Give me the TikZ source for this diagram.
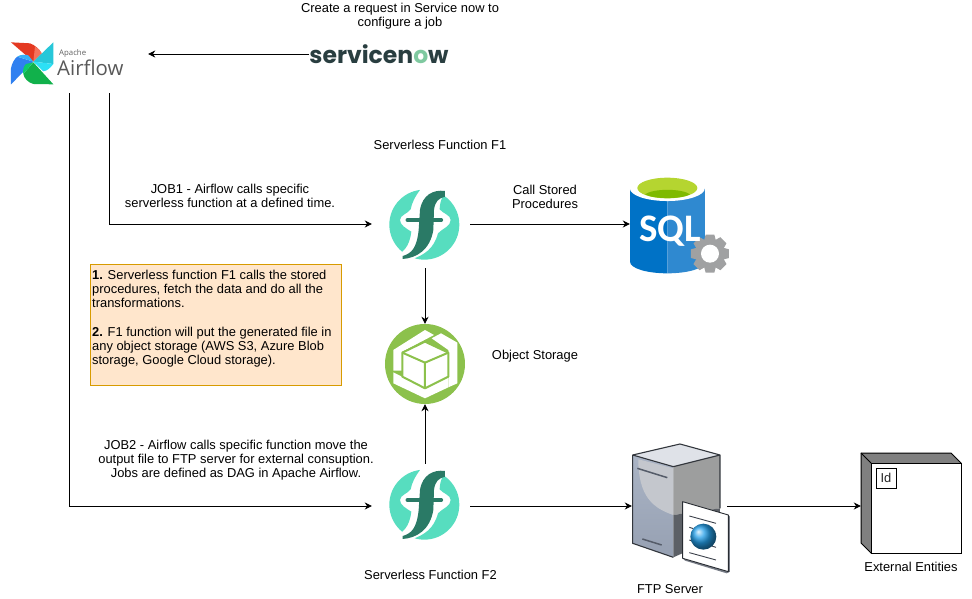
\documentclass[tikz,border=0pt]{standalone}
\usepackage{fontspec}
\setmainfont{Liberation Sans}
\newfontfamily\snfont{Poppins}
\newfontfamily\affont{Open Sans}
\newfontfamily\sqlfont{Carlito}
\usetikzlibrary{arrows.meta}
\definecolor{fteal}{HTML}{57DDBF}
\definecolor{fdark}{HTML}{2A7A66}
\definecolor{osgreen}{HTML}{8CC14C}
\definecolor{notefill}{HTML}{FFE6CC}
\definecolor{noteline}{HTML}{D79B00}
\definecolor{sndark}{HTML}{293E40}
\definecolor{sngreen}{HTML}{7FC9A0}
\definecolor{gearcol}{HTML}{A0A1A2}
\definecolor{sqlL}{HTML}{0072C6}
\definecolor{sqlR}{HTML}{2F89D0}
\definecolor{sqlrim}{HTML}{B5D530}
\definecolor{sqlgr}{HTML}{7FBA00}
\definecolor{srvA}{HTML}{AAB4C5}
\definecolor{srvB}{HTML}{96A0B2}
\definecolor{srvC}{HTML}{C4C7CD}
\definecolor{srvD}{HTML}{9D9E9E}
\definecolor{srvE}{HTML}{5C6066}
\definecolor{srvT}{HTML}{DFE2E8}
\definecolor{srvline}{HTML}{32363C}
\definecolor{srvslot}{HTML}{555C69}
\definecolor{docS}{HTML}{787D87}
\definecolor{docL}{HTML}{282C32}
\definecolor{docT}{HTML}{3C414B}
\definecolor{ballc}{HTML}{25A0EA}
\definecolor{extc}{HTML}{808080}
\definecolor{afred}{HTML}{E43921}
\definecolor{afsalmon}{HTML}{F4725B}
\definecolor{afcyan}{HTML}{27C7D9}
\definecolor{aflcyan}{HTML}{2DE0F5}
\definecolor{afblue}{HTML}{2F80F0}
\definecolor{aflblue}{HTML}{38B0F5}
\definecolor{afgreen}{HTML}{11B14B}
\definecolor{aflgreen}{HTML}{0CCB6C}
\tikzset{
  lbl/.style={align=center,inner sep=0pt,font=\fontsize{12.9}{14}\selectfont},
  conn/.style={draw=black,line width=0.9pt,-{Stealth[length=7pt,width=7pt,inset=2.2pt]}},
  zoomed/.style={x=.3333pt,y=-.3333pt},
}
\newcommand{\flogo}[2]{%
\begin{scope}[shift={(#1,#2)},zoomed]
  \begin{scope}
    \clip (150,45) -- (30,45) -- (30,280) -- (92,250) -- (105,237) .. controls (115,225) and (122,205) .. (124,185) .. controls (108,175) and (90,165) .. (90,150) .. controls (90,135) and (115,130) .. (122,118) .. controls (125,100) and (135,80) .. (150,60) -- cycle;
    \fill[fteal] (163,164) circle (35pt);
  \end{scope}
  \begin{scope}
    \clip (222,70) -- (300,70) -- (300,300) -- (110,300) -- (120,270) .. controls (165,255) and (192,235) .. (204,190) .. controls (217,175) and (242,170) .. (242,150) .. controls (242,135) and (218,130) .. (209,118) .. controls (209,105) and (212,90) .. (222,70) -- cycle;
    \fill[fteal] (163,164) circle (35pt);
  \end{scope}
  \fill[fdark] (98,267) .. controls (140,264) and (180,240) .. (190,180) -- (192,120) .. controls (195,95) and (205,85) .. (225,80) -- (225,63) .. controls (190,58) and (157,75) .. (150,120) -- (146,180) .. controls (140,235) and (125,250) .. (98,258) -- cycle;
  \draw[fdark,line width=3.6pt,line cap=round] (112,150)--(214,150);
\end{scope}}
\begin{document}
\begin{tikzpicture}[x=1pt,y=-1pt]
\useasboundingbox (0,0) rectangle (972,599);
\fill[white] (0,0) rectangle (972,599);

% ---------- Airflow logo
\begin{scope}[zoomed]
  \fill[afred] (33,127) -- (90,130) .. controls (105,135) and (118,148) .. (125,160) -- (100,185) -- cycle;
  \fill[afsalmon] (105,140) .. controls (115,145) and (122,152) .. (125,160) -- (100,185) -- cycle;
  \fill[afcyan] (160,127) -- (160,192) -- (100,185) -- cycle;
  \fill[aflcyan] (100,185) -- (160,192) .. controls (150,205) and (142,212) .. (130,214) -- cycle;
  \fill[afblue] (33,253) -- (33,205) .. controls (36,190) and (42,178) .. (52,170) -- (100,185) -- cycle;
  \fill[aflblue] (52,170) .. controls (62,163) and (76,163) .. (85,166) -- (100,185) -- cycle;
  \fill[afgreen] (160,253) -- (100,252) .. controls (85,248) and (72,235) .. (70,222) -- (100,187) -- cycle;
  \fill[aflgreen] (70,222) .. controls (68,210) and (70,200) .. (78,192) -- (100,187) -- cycle;
\end{scope}
\node[inner sep=0pt,anchor=west,text=black!62,font=\affont\fontsize{7.8}{9}\selectfont] (apache) at (59,53) {Apache};
\node[inner sep=0pt,anchor=west,text=black!65,font=\affont\fontsize{20.4}{22}\selectfont] (airflowtxt) at (57,68) {Airflow};
\node[inner sep=0pt,minimum width=148pt,minimum height=60pt] (airflow) at (74,63) {};

% ---------- ServiceNow
\node[inner sep=0pt,minimum width=138pt,minimum height=24pt,text=sndark,font=\snfont\bfseries\fontsize{23.5}{24}\selectfont] (snow) at (379,54) {service\textcolor{sndark}{n}\textcolor{sngreen}{o}w};

% ---------- Function logos
\flogo{370}{170}
\flogo{370}{450}
\node[inner sep=0pt,minimum width=98pt,minimum height=88pt] (f1) at (421,224) {};
\node[inner sep=0pt,minimum width=98pt,minimum height=84pt] (f2) at (421,506) {};

% ---------- Object storage
\begin{scope}[shift={(370,170)},zoomed]
  \fill[osgreen] (165,582) circle (40pt);
  \fill[white] (70,540) -- (165,480) -- (192,495) -- (97,545) -- (97,602) -- (70,602) -- cycle;
  \fill[white] (185,505) -- (213,490) -- (262,518) -- (262,640) -- (235,652) -- (235,540) -- cycle;
  \fill[white] (70,607) -- (165,655) -- (235,620) -- (235,652) -- (165,685) -- (70,640) -- cycle;
  \fill[white,draw=osgreen,line width=2pt,line join=round] (165,515) -- (235,548) -- (235,620) -- (165,655) -- (97,620) -- (97,548) -- cycle;
  \draw[osgreen,line width=2pt,line join=round] (97,548) -- (165,578) -- (235,548) (165,578) -- (165,655);
\end{scope}
\node[circle,inner sep=0pt,minimum size=80pt] (store) at (425,364) {};

% ---------- SQL
\begin{scope}[shift={(610,160)},zoomed]
  \fill[sqlL] (60,85) -- (60,305) .. controls (60,325) and (110,340) .. (172,340) -- (172,85) -- cycle;
  \fill[sqlR] (172,85) -- (172,340) .. controls (235,340) and (285,325) .. (285,305) -- (285,85) -- cycle;
  \fill[white] (172,85) ellipse [x radius=37.5pt,y radius=12.7pt];
  \fill[sqlrim] (172,84) ellipse [x radius=30pt,y radius=10.3pt];
  \fill[sqlgr] (105,103) .. controls (130,85) and (215,85) .. (240,103) .. controls (215,118) and (130,118) .. cycle;
  \foreach \a in {0,45,...,315}{
    \fill[gearcol,rotate around={\a:(300,281)}] (287,224) -- (313,224) -- (320,250) -- (280,250) -- cycle;
  }
  \fill[gearcol] (300,281) circle (14.5pt);
  \fill[white] (300,281) circle (9pt);
\end{scope}
\node[inner sep=0pt,text=white,font=\sqlfont\bfseries\fontsize{39}{39}\selectfont] (sqltxt) at (670,231) {SQL};
\node[inner sep=0pt,minimum width=75pt,minimum height=96pt] (sql) at (667.5,224) {};

% ---------- FTP server
\begin{scope}[shift={(610,440)},zoomed]
  \fill[srvT] (68,45) -- (210,12) -- (330,45) -- (190,80) -- cycle;
  \shade[top color=srvA,bottom color=srvB] (68,45) -- (190,80) -- (190,352) -- (68,310) -- cycle;
  \fill[srvC] (85,58) -- (190,85) -- (190,225) .. controls (130,205) and (85,170) .. cycle;
  \fill[srvD] (190,80) -- (330,45) -- (330,205) -- (190,225) -- cycle;
  \fill[srvE] (190,225) -- (330,205) -- (330,290) -- (190,352) -- cycle;
  \draw[srvline,line width=1.1pt,line join=round] (190,352) -- (68,310) -- (68,45) -- (210,12) -- (330,45) -- (330,205) (68,45) -- (190,80) -- (330,45);
  \draw[srvslot,line width=1.5pt] (82,85) -- (172,113) (97,297) -- (155,315);
  \fill[docS] (355,225) -- (355,395) -- (218,355) -- (225,362) -- (350,400) -- (360,395) -- (360,230) -- cycle;
  \fill[white,draw=docL,line width=.9pt,line join=round] (218,185) -- (355,225) -- (355,395) -- (218,355) -- cycle;
  \draw[docT,line width=.9pt] (238,228) -- (318,250) (238,262) -- (250,266) (305,278) -- (318,282) (238,300) -- (250,304) (305,318) -- (318,322) (238,338) -- (318,360);
  \shade[ball color=ballc] (280,290) circle (13pt);
\end{scope}
\node[inner sep=0pt,minimum width=95pt,minimum height=130pt] (ftp) at (679.5,506) {};

% ---------- External entities
\draw[black,line width=1pt,line join=round,fill=extc] (861,453) -- (951,453) -- (961,463) -- (961,553) -- (871,553) -- (861,543) -- cycle;
\node[draw=black,line width=1pt,fill=white,inner sep=0pt,minimum width=90pt,minimum height=90pt] (extface) at (916,508) {};
\draw[black,line width=1pt] (861,453) -- (871,463);
\node[draw=black,line width=1pt,fill=white,inner sep=0pt,minimum width=20pt,minimum height=20pt,font=\fontsize{12.9}{14}\selectfont,text=black!85] (idbox) at (886,478) {Id};
\node[inner sep=0pt,minimum width=100pt,minimum height=100pt] (ext) at (911,506) {};

% ---------- Note
\node[draw=noteline,fill=notefill,line width=.8pt,inner sep=0pt,minimum width=251pt,minimum height=121pt] (note) at (215.5,324.5) {};
\node[inner sep=0pt,anchor=north west,align=left,font=\fontsize{12.9}{14.2}\selectfont] (notetxt) at (92,270) {\textbf{1.} Serverless function F1 calls the stored\\procedures, fetch the data and do all the\\transformations.\\[14pt]\textbf{2.} F1 function will put the generated file in\\any object storage (AWS S3, Azure Blob\\storage, Google Cloud storage).};

% ---------- Labels
\node[lbl] (t1) at (400,16) {Create a request in Service now to\\configure a job};
\node[lbl] (t2) at (440,145) {Serverless Function F1};
\node[lbl] (t3) at (230,195.5) {JOB1 - Airflow calls specific\\serverless function at a defined time.};
\node[lbl] (t4) at (545,196.5) {Call Stored\\Procedures};
\node[lbl] (t5) at (535,356) {Object Storage};
\node[lbl] (t6) at (236,460.5) {JOB2 - Airflow calls specific function move the\\output file to FTP server for external consuption.\\Jobs are defined as DAG in Apache Airflow.};
\node[lbl] (t7) at (430.5,575) {Serverless Function F2};
\node[lbl] (t8) at (670,589) {FTP Server};
\node[lbl] (t9) at (911,567) {External Entities};

% ---------- Connectors
\draw[conn] (snow.west) -- (snow.west -| airflow.east);
\draw[conn] ([xshift=35pt]airflow.south) |- (f1.west);
\draw[conn] ([xshift=-5pt]airflow.south) |- (f2.west);
\draw[conn] (f1.east) -- (sql.west);
\draw[conn] ([xshift=4pt]f1.south) -- (store.north);
\draw[conn] ([xshift=4pt]f2.north) -- (store.south);
\draw[conn] (f2.east) -- (ftp.west);
\draw[conn] (ftp.east) -- (ext.west);
\end{tikzpicture}
\end{document}
